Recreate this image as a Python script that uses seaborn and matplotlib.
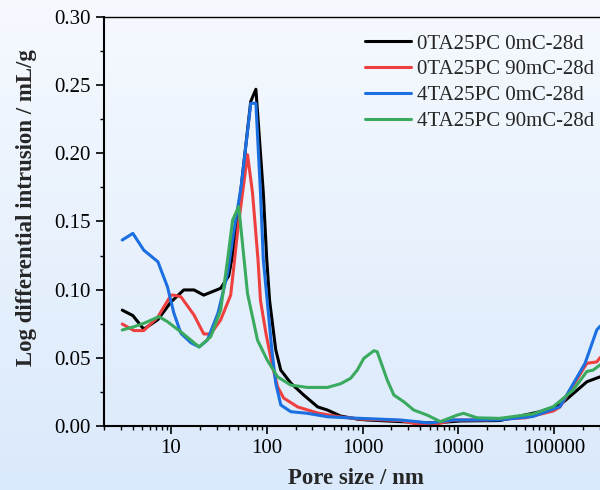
import numpy as np
import pandas as pd
import matplotlib
matplotlib.use('Agg')
import matplotlib.pyplot as plt
import matplotlib.ticker as mticker
import seaborn as sns

# Pore size (nm) and log differential intrusion (mL/g) for each sample
black_nm = [3.1, 4.0, 5.2, 7.3, 10, 13.6, 17.4, 22, 33, 40, 45, 54, 68, 77, 92, 100, 107,
            124, 140, 178, 243, 340, 430, 590, 890, 1130, 2500, 5500, 10500, 27000, 71000,
            115000, 220000, 300000, 330000]
black_val = [0.085, 0.081, 0.071, 0.078, 0.091, 0.0998, 0.0998, 0.096, 0.101, 0.110, 0.129,
             0.175, 0.238, 0.247, 0.171, 0.122, 0.092, 0.056, 0.041, 0.0315, 0.0227, 0.014,
             0.0117, 0.0073, 0.005, 0.0044, 0.0032, 0.0022, 0.0037, 0.004, 0.0105, 0.0154,
             0.0325, 0.036, 0.037]

red_nm = [3.1, 4.1, 5.2, 7.3, 10, 10.7, 12.7, 17.4, 22, 26, 33, 42, 45, 50, 63, 71, 81, 86,
          98, 115, 130, 150, 210, 340, 590, 1000, 2500, 4000, 5500, 8900, 20000, 50000,
          98000, 115000, 219000, 278000, 300000, 330000]
red_val = [0.0748, 0.070, 0.070, 0.080, 0.096, 0.096, 0.0948, 0.0814, 0.0675, 0.0675, 0.0778,
           0.096, 0.115, 0.145, 0.199, 0.171, 0.122, 0.092, 0.068, 0.0433, 0.0286, 0.0205,
           0.014, 0.0095, 0.0066, 0.005, 0.004, 0.0008, 0.0008, 0.0044, 0.0045, 0.006,
           0.011, 0.014, 0.046, 0.047, 0.050, 0.052]

blue_nm = [3.1, 4.0, 5.2, 7.3, 9.2, 10.7, 12.7, 16.2, 19.7, 24, 31, 39, 45, 54, 68, 77, 86,
           92, 101, 113, 124, 140, 178, 265, 430, 750, 2500, 5000, 8900, 27000, 60000,
           115000, 210000, 278000, 300000, 330000]
blue_val = [0.1364, 0.1413, 0.129, 0.1205, 0.102, 0.083, 0.068, 0.061, 0.058, 0.063, 0.083,
            0.112, 0.1415, 0.1756, 0.2367, 0.2367, 0.171, 0.122, 0.092, 0.0557, 0.0315,
            0.0154, 0.0105, 0.0093, 0.0068, 0.0059, 0.0044, 0.0022, 0.0044, 0.0045, 0.007,
            0.0142, 0.046, 0.0704, 0.073, 0.075]

green_nm = [3.1, 4.1, 5.2, 7.5, 9.2, 12.7, 19.7, 26, 33, 39, 44, 51, 58, 63, 80, 101, 130,
            178, 265, 430, 590, 750, 880, 1030, 1310, 1420, 1810, 2120, 2690, 3420, 4720,
            6500, 9700, 11300, 15700, 27000, 41000, 60000, 98000, 158000, 219000, 255000,
            300000, 330000]
green_val = [0.0704, 0.0728, 0.0753, 0.0802, 0.0765, 0.069, 0.058, 0.0655, 0.085, 0.122,
             0.151, 0.161, 0.122, 0.097, 0.063, 0.0484, 0.036, 0.030, 0.0283, 0.0283, 0.031,
             0.035, 0.041, 0.0496, 0.0552, 0.0545, 0.0337, 0.0227, 0.0178, 0.0117, 0.008,
             0.0032, 0.008, 0.0093, 0.006, 0.0056, 0.0073, 0.0088, 0.0142, 0.0264, 0.040,
             0.041, 0.0447, 0.047]

labels = ['0TA25PC 0mC-28d', '0TA25PC 90mC-28d', '4TA25PC 0mC-28d', '4TA25PC 90mC-28d']
colors = ['#000000', '#ef4040', '#1b6fe0', '#3aaa5f']
x_ticks = [10, 100, 1000, 10000, 100000]

frames = []
for lab, xs, ys in zip(labels, [black_nm, red_nm, blue_nm, green_nm],
                       [black_val, red_val, blue_val, green_val]):
    frames.append(pd.DataFrame({'pore': xs, 'val': ys, 'sample': lab}))
df = pd.concat(frames, ignore_index=True)

sns.set_theme(style='ticks')
plt.rcParams['font.family'] = ['Liberation Serif', 'DejaVu Serif']
plt.rcParams['axes.edgecolor'] = 'black'
plt.rcParams['xtick.color'] = 'black'
plt.rcParams['ytick.color'] = 'black'

fig = plt.figure(figsize=(6, 4.9), dpi=100)

# light blue vertical gradient background
bg = fig.add_axes([0, 0, 1, 1], zorder=0)
top = np.array([0.965, 0.978, 0.998])
bot = np.array([0.855, 0.914, 0.985])
t = np.linspace(0, 1, 256)[:, None]
grad = (top * (1 - t) + bot * t)[:, None, :]
bg.imshow(grad, aspect='auto', extent=[0, 1, 0, 1])
bg.axis('off')

ax = fig.add_axes([104 / 600, 64 / 490, 546 / 600, 409 / 490], zorder=1)
ax.set_facecolor('none')

sns.lineplot(data=df, x='pore', y='val', hue='sample', palette=colors, hue_order=labels,
             linewidth=2.2, estimator=None, sort=True, ax=ax)

ax.set_xscale('log')
ax.set_xlim(2, 1e6)
ax.set_ylim(0, 0.30)
ax.xaxis.set_major_locator(mticker.FixedLocator(x_ticks))
ax.xaxis.set_minor_locator(mticker.LogLocator(base=10, subs=np.arange(2, 10), numticks=20))
ax.xaxis.set_major_formatter(mticker.FuncFormatter(lambda v, p: f'{int(round(v))}'))
ax.xaxis.set_minor_formatter(mticker.NullFormatter())
ax.yaxis.set_major_locator(mticker.MultipleLocator(0.05))
ax.yaxis.set_minor_locator(mticker.MultipleLocator(0.025))
ax.yaxis.set_major_formatter(mticker.FormatStrFormatter('%.2f'))

ax.tick_params(which='major', direction='out', length=5.5, width=1.2, labelsize=15, pad=4)
ax.tick_params(which='minor', direction='out', length=3, width=1.0)
ax.tick_params(top=False, right=False)
for side in ['left', 'bottom']:
    ax.spines[side].set_linewidth(1.5)
ax.spines['top'].set_linewidth(1.0)
ax.spines['right'].set_linewidth(1.0)

ax.set_xlabel('')
ax.set_ylabel('')
fig.text(27 / 600, 1 - 208 / 490, 'Log differential intrusion / mL/g', rotation=90,
         ha='center', va='center', fontsize=16.5, fontweight='bold')
fig.text(356 / 600, 1 - 478 / 490, 'Pore size / nm', ha='center', va='center',
         fontsize=16.5, fontweight='bold')

handles, labs = ax.get_legend_handles_labels()
ax.legend(handles, labs, loc='upper left', bbox_to_anchor=(365 / 600, 1 - 34 / 490),
          bbox_transform=fig.transFigure, frameon=False, fontsize=15, handlelength=2.2,
          handletextpad=0.3, labelspacing=0.3, borderpad=0, borderaxespad=0)

fig.savefig('out.png', dpi=100)
